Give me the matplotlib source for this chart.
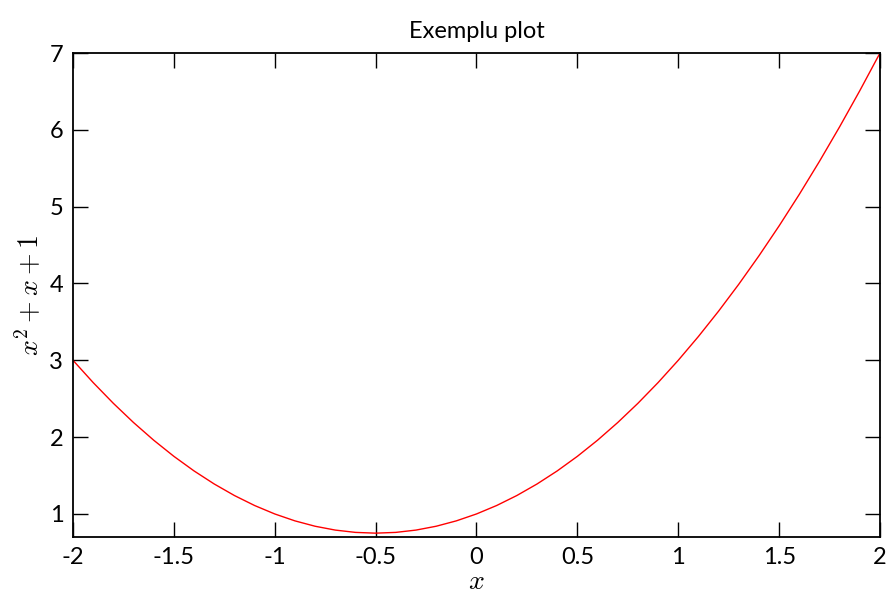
import matplotlib
matplotlib.use('Agg')
import matplotlib.pyplot as plt

plt.rcParams['font.family'] = ['Lato', 'DejaVu Sans']
plt.rcParams['mathtext.fontset'] = 'cm'
plt.rcParams['axes.unicode_minus'] = False

# values (x, x^2 + x + 1)
x = [-2.0, -1.9, -1.8, -1.7, -1.6, -1.5, -1.4, -1.3, -1.2, -1.1, -1.0,
     -0.9, -0.8, -0.7, -0.6, -0.5, -0.4, -0.3, -0.2, -0.1, 0.0,
     0.1, 0.2, 0.3, 0.4, 0.5, 0.6, 0.7, 0.8, 0.9, 1.0,
     1.1, 1.2, 1.3, 1.4, 1.5, 1.6, 1.7, 1.8, 1.9, 2.0]
y = [3.0, 2.71, 2.44, 2.19, 1.96, 1.75, 1.56, 1.39, 1.24, 1.11, 1.0,
     0.91, 0.84, 0.79, 0.76, 0.75, 0.76, 0.79, 0.84, 0.91, 1.0,
     1.11, 1.24, 1.39, 1.56, 1.75, 1.96, 2.19, 2.44, 2.71, 3.0,
     3.31, 3.64, 3.99, 4.36, 4.75, 5.16, 5.59, 6.04, 6.51, 7.0]

xticks = [-2, -1.5, -1, -0.5, 0, 0.5, 1, 1.5, 2]
xtick_labels = ['-2', '-1.5', '-1', '-0.5', '0', '0.5', '1', '1.5', '2']
yticks = [1, 2, 3, 4, 5, 6, 7]

fig = plt.figure(figsize=(8.93, 6.04), dpi=100)
ax = fig.add_axes([73 / 893, 1 - 537 / 604, (880 - 73) / 893, (537 - 53) / 604])

ax.plot(x, y, color='red', linewidth=1)
ax.set_xlim(-2, 2)
ax.set_ylim(0.7, 7)
ax.set_xticks(xticks)
ax.set_xticklabels(xtick_labels)
ax.set_yticks(yticks)
ax.tick_params(direction='in', length=11, width=1, top=True, right=True,
               labelsize=17, pad=7, color='black')
for s in ax.spines.values():
    s.set_linewidth(1.3)

ax.set_title('Exemplu plot', fontsize=17, pad=11)
ax.set_xlabel('$x$', fontsize=20, labelpad=0)
ax.set_ylabel('$x^2 + x + 1$', fontsize=20, labelpad=4)

fig.savefig('out.png', dpi=100)
